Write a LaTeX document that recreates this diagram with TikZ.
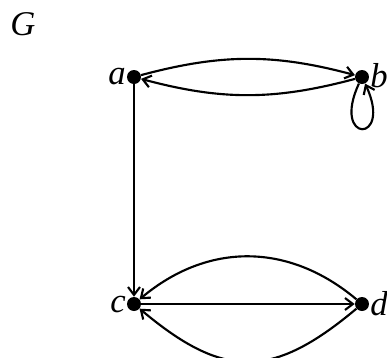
\documentclass[tikz,border=0pt]{standalone}
\usepackage{fontspec}
\setmainfont{Liberation Serif}
\usetikzlibrary{arrows.meta}
\begin{document}
\begin{tikzpicture}[x=0.75pt,y=-0.75pt,
  vtx/.style={circle,fill=black,inner sep=0pt,minimum size=10.5pt},
  lbl/.style={font=\fontsize{26}{31}\selectfont\itshape,inner sep=0pt},
  edge/.style={line width=1.6pt,-{Straight Barb[length=6pt,width=9pt,line width=1.6pt]}}]
\useasboundingbox (0,0) rectangle (387,358);
\node[lbl] (G) at (23,24) {G};
\node[vtx] (a) at (134,77) {};
\node[vtx] (b) at (362,77) {};
\node[vtx] (c) at (134,304) {};
\node[vtx] (d) at (362,304) {};
\node[lbl,anchor=east] (la) at (126,77) {a};
\node[lbl,anchor=west] (lb) at (370,76) {b};
\node[lbl,anchor=east] (lc) at (126,304) {c};
\node[lbl,anchor=west] (ld) at (370,304) {d};
\draw[edge] (a) to[bend left=15] (b);
\draw[edge] (b) to[bend left=15] (a);
\draw[edge] (b) to[out=-115,in=-65,distance=50] (b);
\draw[edge] (a) -- (c);
\draw[edge] (c) -- (d);
\draw[edge] (d) to[bend right=40,looseness=1.05] (c);
\draw[edge] (d) to[bend left=40,looseness=1.3] (c);
\end{tikzpicture}
\end{document}
